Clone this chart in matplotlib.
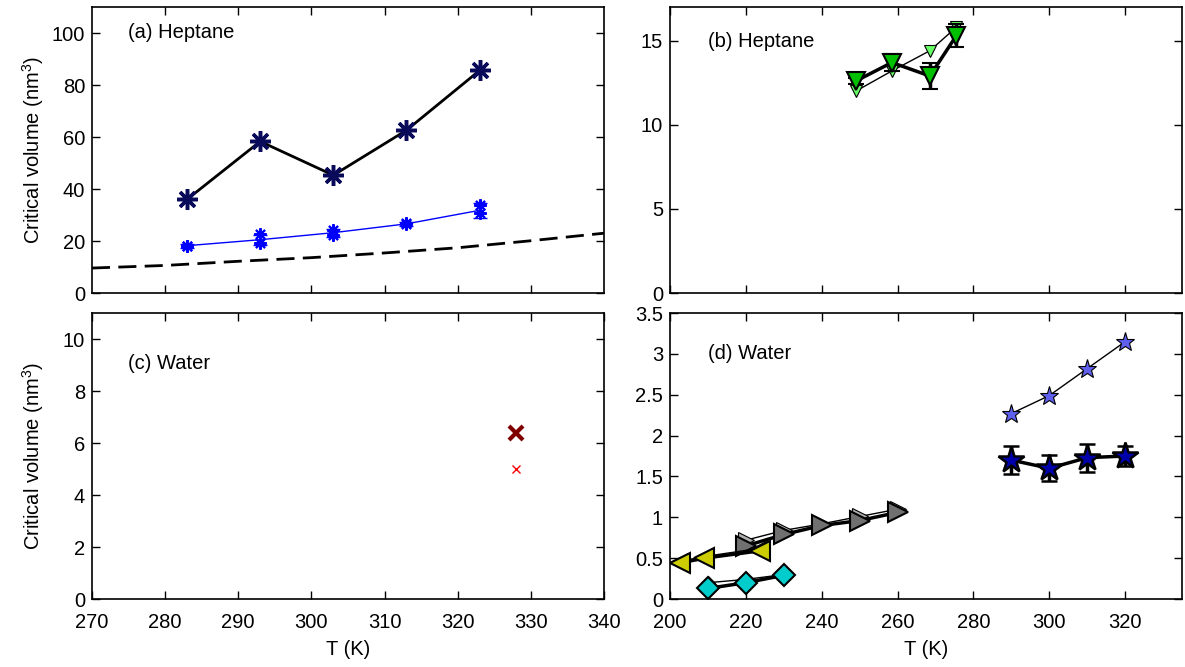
import matplotlib
matplotlib.use("Agg")
import matplotlib.pyplot as plt
import numpy as np

plt.rcParams["font.family"] = ["Liberation Sans", "DejaVu Sans"]
plt.rcParams["font.size"] = 14.5
plt.rcParams["mathtext.default"] = "regular"

# --- (a) Heptane ---
T_a = [283, 293, 303, 313, 323]
vc_sim = [36.0, 58.3, 45.3, 62.6, 85.6]
vc_blue_lo = [18.2, 19.2, 22.2, 26.4, 30.8]
vc_blue_hi = [18.2, 22.8, 24.4, 26.9, 33.7]
vc_blue_fit = [18.2, 20.5, 23.2, 26.6, 31.8]
vc_blue_err = [0.7, 2.0, 1.5, 0.8, 3.0]
T_dash = [270, 280, 290, 300, 310, 320, 330, 340]
vc_dash = [9.6, 10.6, 12.2, 13.6, 15.4, 17.4, 20.1, 23.0]

# --- (b) Heptane ---
T_b = [249, 258.5, 268.5, 275.5]
vc_b_dark = [12.6, 13.7, 12.9, 15.3]
vc_b_dark_err = [0.2, 0.5, 0.77, 0.67]
vc_b_light = [12.0, 13.2, 14.4, 15.8]

# --- (c) Water ---
T_c = [328]
vc_c_dark = [6.37]
vc_c_light = [5.0]

# --- (d) Water ---
T_star = [290, 300, 310, 320]
vc_star_light = [2.27, 2.49, 2.82, 3.15]
vc_star_dark = [1.70, 1.60, 1.73, 1.75]
vc_star_err = [0.17, 0.16, 0.17, 0.12]
T_gray = [220, 230, 240, 250, 260]
vc_gray_light = [0.72, 0.84, 0.92, 1.01, 1.10]
vc_gray_dark = [0.65, 0.79, 0.90, 0.96, 1.06]
T_yel = [202.5, 209, 223.7]
vc_yel_light = [0.46, 0.52, 0.62]
vc_yel_dark = [0.44, 0.50, 0.59]
T_cyan = [210, 220, 230]
vc_cyan_light = [0.20, 0.24, 0.30]
vc_cyan_dark = [0.13, 0.20, 0.29]

ASTER = (8, 2, 0)

fig, axes = plt.subplots(2, 2, figsize=(11.85, 6.67), dpi=100)
fig.subplots_adjust(left=0.0776, right=0.9975, top=0.9895, bottom=0.1019,
                    wspace=0.129, hspace=0.07)
ax_a, ax_b = axes[0]
ax_c, ax_d = axes[1]

for ax in axes.flat:
    ax.tick_params(direction="in", length=6, width=1, top=True, right=True)
    ax.tick_params(axis="x", pad=10)
    ax.tick_params(axis="y", pad=5)
    for sp in ax.spines.values():
        sp.set_linewidth(1.2)

# (a)
ax_a.plot(T_dash, vc_dash, color="k", lw=2, ls=(0, (6.5, 3)))
ax_a.errorbar(T_a, vc_blue_fit, yerr=vc_blue_err, color="#0000ff", lw=1,
              capsize=5, capthick=1)
ax_a.plot(T_a, vc_blue_lo, ls="none", marker=ASTER, ms=9, mew=1.5, color="#0000ff")
ax_a.plot(T_a, vc_blue_hi, ls="none", marker=ASTER, ms=9, mew=1.5, color="#0000ff")
ax_a.plot(T_a, vc_sim, color="k", lw=2)
ax_a.plot(T_a, vc_sim, ls="none", marker=ASTER, ms=15, mew=2.5, color="#0a0a5a")
ax_a.set_xlim(270, 340)
ax_a.set_ylim(0, 110)
ax_a.set_yticks([0, 20, 40, 60, 80, 100])
ax_a.set_xticks([280, 290, 300, 310, 320, 330])
ax_a.set_xticklabels([])
ax_a.set_ylabel("Critical volume (nm$^3$)")
ax_a.text(0.07, 0.91, "(a) Heptane", transform=ax_a.transAxes, va="center")

# (b)
ax_b.plot(T_b, vc_b_light, color="k", lw=1, marker="v", ms=8,
          mfc="#66ff66", mec="k", mew=0.8)
ax_b.errorbar(T_b, vc_b_dark, yerr=vc_b_dark_err, color="k", lw=2.5,
              capsize=6, capthick=2.5, marker="v", ms=13, mfc="#00c000",
              mec="k", mew=1.5)
ax_b.set_xlim(200, 335)
ax_b.set_ylim(0, 17)
ax_b.set_yticks([0, 5, 10, 15])
ax_b.set_xticks([200, 220, 240, 260, 280, 300, 320])
ax_b.set_xticklabels([])
ax_b.text(0.074, 0.88, "(b) Heptane", transform=ax_b.transAxes, va="center")

# (c)
ax_c.plot(T_c, vc_c_dark, ls="none", marker="x", ms=10, mew=3, color="#800000")
ax_c.plot(T_c, vc_c_light, ls="none", marker="x", ms=6, mew=1, color="#ff0000")
ax_c.set_xlim(270, 340)
ax_c.set_ylim(0, 11)
ax_c.set_yticks([0, 2, 4, 6, 8, 10])
ax_c.set_xticks([270, 280, 290, 300, 310, 320, 330, 340])
ax_c.set_xlabel("T (K)", labelpad=6)
ax_c.set_ylabel("Critical volume (nm$^3$)")
ax_c.text(0.07, 0.825, "(c) Water", transform=ax_c.transAxes, va="center")

# (d)
ax_d.plot(T_cyan, vc_cyan_light, color="k", lw=1, marker="D", ms=7,
          mfc="#66ffff", mec="k", mew=0.8)
ax_d.plot(T_cyan, vc_cyan_dark, color="k", lw=2.5, marker="D", ms=11,
          mfc="#00cccc", mec="k", mew=1.5)
ax_d.plot(T_gray, vc_gray_light, color="k", lw=1, marker=">", ms=12,
          mfc="#b0b0b0", mec="k", mew=0.8)
ax_d.plot(T_gray, vc_gray_dark, color="k", lw=2.5, marker=">", ms=14,
          mfc="#707070", mec="k", mew=1.5)
ax_d.plot(T_yel, vc_yel_light, color="k", lw=1, marker="<", ms=12,
          mfc="#ffff66", mec="k", mew=0.8)
ax_d.plot(T_yel, vc_yel_dark, color="k", lw=2.5, marker="<", ms=14,
          mfc="#cccc00", mec="k", mew=1.5)
ax_d.plot(T_star, vc_star_light, color="k", lw=1, marker="*", ms=14,
          mfc="#6060ee", mec="k", mew=0.8)
ax_d.errorbar(T_star, vc_star_dark, yerr=vc_star_err, color="k", lw=2.5,
              capsize=6, capthick=2.5, marker="*", ms=20, mfc="#0000aa",
              mec="k", mew=1.8)
ax_d.set_xlim(200, 335)
ax_d.set_ylim(0, 3.5)
ax_d.set_yticks([0, 0.5, 1, 1.5, 2, 2.5, 3, 3.5])
ax_d.set_yticklabels(["0", "0.5", "1", "1.5", "2", "2.5", "3", "3.5"])
ax_d.set_xticks([200, 220, 240, 260, 280, 300, 320])
ax_d.set_xlabel("T (K)", labelpad=6)
ax_d.text(0.074, 0.857, "(d) Water", transform=ax_d.transAxes, va="center")

fig.align_ylabels([ax_a, ax_c])

fig.savefig("out.png", dpi=100)
